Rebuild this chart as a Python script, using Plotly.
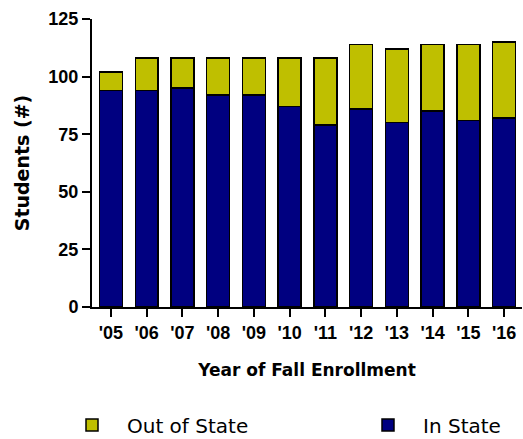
import plotly.graph_objects as go

years = ["'05", "'06", "'07", "'08", "'09", "'10", "'11", "'12", "'13", "'14", "'15", "'16"]
in_state = [94, 94, 95, 92, 92, 87, 79, 86, 80, 85, 81, 82]
out_state = [8, 14, 13, 16, 16, 21, 29, 28, 32, 29, 33, 33]
y_ticks = [0, 25, 50, 75, 100, 125]

fig = go.Figure()
fig.add_trace(go.Bar(x=years, y=in_state, name="In State", legend="legend2",
                     marker=dict(color="#000080", line=dict(color="black", width=1.5))))
fig.add_trace(go.Bar(x=years, y=out_state, name="Out of State", legend="legend",
                     marker=dict(color="#BFBF00", line=dict(color="black", width=1.5))))

legend_style = dict(orientation="h", xref="container", yref="container",
                    xanchor="left", yanchor="middle",
                    font=dict(family="DejaVu Sans", size=20, color="black"),
                    itemwidth=60, bgcolor="rgba(0,0,0,0)")

fig.update_layout(
    width=523, height=439,
    showlegend=True,
    barmode="stack", bargap=0.36,
    paper_bgcolor="white", plot_bgcolor="white",
    margin=dict(l=92, r=1, t=19, b=132, autoexpand=False),
    font=dict(family="Liberation Sans", color="black"),
    legend=dict(x=57 / 523, y=1 - 425 / 439, **legend_style),
    legend2=dict(x=353 / 523, y=1 - 425 / 439, **legend_style),
    xaxis=dict(range=[-0.53, 11.5], showline=True, linecolor="black", linewidth=2,
               ticks="outside", ticklen=8, tickwidth=2, tickcolor="black",
               tickfont=dict(family="Liberation Sans", size=18, color="black", weight="bold"),
               title=dict(text="Year of Fall Enrollment", standoff=23,
                          font=dict(family="DejaVu Sans", size=17, color="black", weight="bold")),
               showgrid=False, zeroline=False),
    yaxis=dict(range=[0, 125], tickvals=y_ticks, showline=True, linecolor="black", linewidth=2,
               ticks="outside", ticklen=8, tickwidth=2, tickcolor="black",
               tickfont=dict(family="Liberation Sans", size=18, color="black", weight="bold"),
               title=dict(text="Students (#)", standoff=14,
                          font=dict(family="DejaVu Sans", size=19, color="black", weight="bold")),
               showgrid=False, zeroline=False),
)

fig.write_html("out.html", config={"displayModeBar": False},
               post_script="document.body.style.margin='0';document.body.style.overflow='hidden';")
